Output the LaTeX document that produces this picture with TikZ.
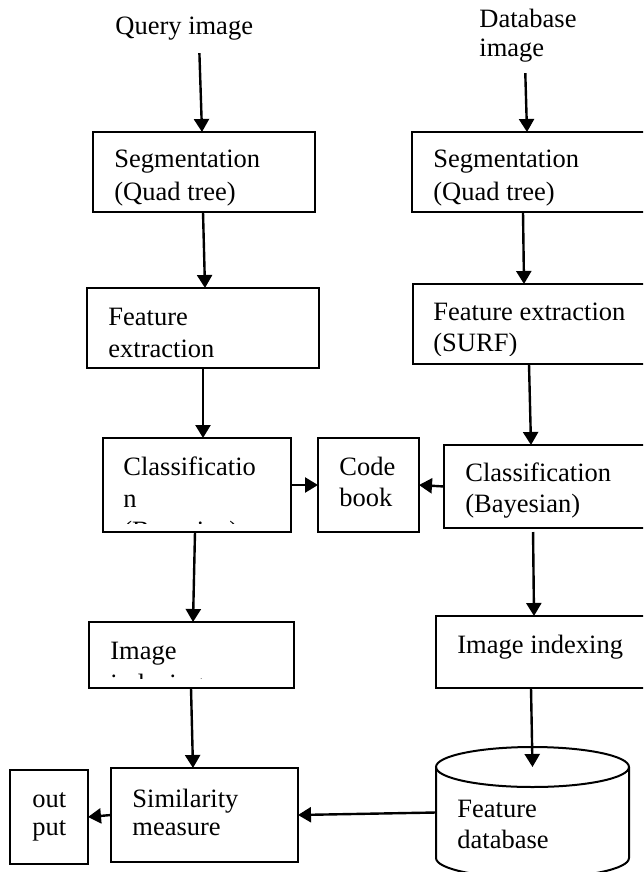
\documentclass[tikz,border=0pt]{standalone}
\usepackage{fontspec}
\setmainfont{Liberation Serif}
\usetikzlibrary{arrows.meta,fit}
\begin{document}
\begin{tikzpicture}[x=0.5pt,y=-0.5pt,
  box/.style={draw, line width=1pt, inner sep=0pt, outer sep=0pt},
  lbl/.style={anchor=base west, inner sep=0pt, font=\fontsize{13.25pt}{16pt}\selectfont},
  arr/.style={line width=1.2pt, -{Triangle[length=6.5pt,width=7.5pt]}}]
\useasboundingbox (0,0) rectangle (643,872);
\clip (0,0) rectangle (643,872);

% ---- boxes (left column, query side) ----
\node[box, fit={(93,132) (315,212)}]  (segL)   {};
\node[box, fit={(87,288) (319,368)}]  (featL)  {};
\node[box, fit={(103,438) (291,532)}] (classL) {};
\node[box, fit={(89,622) (294,688)}]  (imgL)   {};
\node[box, fit={(111,768) (298,862)}] (sim)    {};
\node[box, fit={(10,770) (88,864)}]   (out)    {};

% ---- code book ----
\node[box, fit={(318,438) (419,532)}] (code) {};

% ---- boxes (right column, database side) ----
\node[box, fit={(412,132) (660,212)}] (segR)   {};
\node[box, fit={(413,284) (660,364)}] (featR)  {};
\node[box, fit={(444,445) (660,528)}] (classR) {};
\node[box, fit={(436,616) (660,688)}] (imgR)   {};

% ---- feature database cylinder ----
\node[fit={(436,747) (629,878)}, inner sep=0pt, outer sep=0pt] (fdb) {};
\coordinate (fdbtop) at (532.5,767);
\draw[line width=1pt] (fdbtop) ellipse [x radius=96.5, y radius=20];
\draw[line width=1pt] (436,767) -- (436,858)
  arc[start angle=180, end angle=0, x radius=96.5, y radius=20] -- (629,767);

% ---- labels ----
\node[lbl] (tq)   at (115,35) {Query image};
\node[lbl] (tdb1) at (479,28) {Database};
\node[lbl] (tdb2) at (479,57) {image};

\node[lbl] (segLa) at (114,167) {Segmentation};
\node[lbl] (segLb) at (114,200) {(Quad tree)};
\node[lbl] (segRa) at (433,167) {Segmentation};
\node[lbl] (segRb) at (433,200) {(Quad tree)};

\node[lbl] (featLa) at (108,325) {Feature};
\node[lbl] (featLb) at (108,357) {extraction};
\node[lbl] (featRa) at (433,320) {Feature extraction};
\begin{scope}
  \clip (413,284) rectangle (643,355);
  \node[lbl] (featRb) at (433,351) {(SURF)};
\end{scope}

\node[lbl] (classLa) at (123,475) {Classificatio};
\node[lbl] (classLb) at (123,507) {n};
\begin{scope}
  \clip (103,438) rectangle (291,523);
  \node[lbl] (classLc) at (123,539) {(Bayesian)};
\end{scope}

\node[lbl] (codea) at (339,475) {Code};
\node[lbl] (codeb) at (339,506) {book};

\node[lbl] (classRa) at (465,481) {Classification};
\node[lbl] (classRb) at (465,512) {(Bayesian)};

\node[lbl] (imgLa) at (110,659) {Image};
\begin{scope}
  \clip (89,622) rectangle (294,678);
  \node[lbl] (imgLb) at (110,692) {indexing};
\end{scope}
\node[lbl] (imgRa) at (457,653) {Image indexing};

\node[lbl] (sima) at (132,807) {Similarity};
\node[lbl] (simb) at (132,835) {measure};
\node[lbl] (outa) at (32,807) {out};
\node[lbl] (outb) at (32,835) {put};

\node[lbl] (fdba) at (457,817) {Feature};
\node[lbl] (fdbb) at (457,848) {database};

% ---- connectors ----
\draw[arr, shorten <=6pt] (tq.south -| 199,0) -- (segL.north -| 202,0);
\draw[arr, shorten <=5pt] (tdb2.south -| 525,0) -- (segR.north -| 527,0);
\draw[arr] (segL.south -| 203,0) -- (featL.north -| 205,0);
\draw[arr] (featL.south -| 203,0) -- (classL.north -| 203,0);
\draw[arr] (classL.south -| 195,0) -- (imgL.north -| 193,0);
\draw[arr] (imgL.south -| 191,0) -- (sim.north -| 193,0);
\draw[arr] (segR.south -| 523,0) -- (featR.north -| 524,0);
\draw[arr] (featR.south -| 529,0) -- (classR.north -| 531,0);
\draw[arr, shorten <=2pt] (classR.south -| 533,0) -- (imgR.north -| 534,0);
\draw[arr] (imgR.south -| 531,0) -- (fdbtop);
\draw[arr] (classL.east) -- (code.west);
\draw[arr] (classR.west) -- (code.east);
\draw[arr] (fdb.west) -- (sim.east);
\draw[arr] (sim.west) -- (out.east);
\end{tikzpicture}
\end{document}
